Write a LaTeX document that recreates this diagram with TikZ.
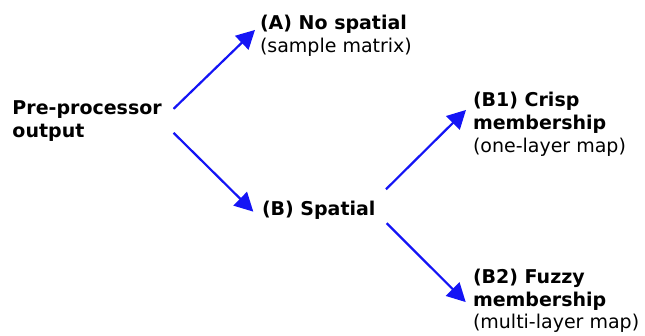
\documentclass[tikz,border=0pt]{standalone}
\usepackage{fontspec}
\setmainfont{DejaVu Sans}
\usetikzlibrary{arrows.meta}
\tikzset{
  lbl/.style={anchor=base west, inner sep=0pt, outer sep=0pt, align=left,
    font=\fontsize{19pt}{22.8pt}\selectfont},
  arr/.style={draw={rgb,255:red,20;green,20;blue,245}, line width=2.2pt,
    -{Triangle[length=18.5pt,width=19pt]}},
}
\begin{document}
\begin{tikzpicture}[x=1pt,y=-1pt]
  \useasboundingbox (0,0) rectangle (645,336);
  % labels (anchored at the baseline of their last line)
  \node[lbl] (pre) at (12.5,137.5) {\textbf{Pre-processor}\\\textbf{output}};
  \node[lbl] (A)   at (260,52.8)   {\textbf{(A) No spatial}\\(sample matrix)};
  \node[lbl] (B)   at (262,216)    {\textbf{(B) Spatial}};
  \node[lbl] (B1)  at (473,152.3)  {\textbf{(B1) Crisp}\\\textbf{membership}\\(one-layer map)};
  \node[lbl] (B2)  at (473,329)    {\textbf{(B2) Fuzzy}\\\textbf{membership}\\(multi-layer map)};
  % branches
  \draw[arr] ([shift={(11.8,-12.3)}]pre.east) -- ([shift={(-5,-6.2)}]A.west);
  \draw[arr] ([shift={(11.8,11.7)}]pre.east) -- ([shift={(-8.7,0.9)}]B.west);
  \draw[arr] ([shift={(10.5,-21.5)}]B.east) -- ([shift={(-7,-14.3)}]B1.west);
  \draw[arr] ([shift={(11.2,12.5)}]B.east) -- ([shift={(-7.3,1.1)}]B2.west);
\end{tikzpicture}
\end{document}
